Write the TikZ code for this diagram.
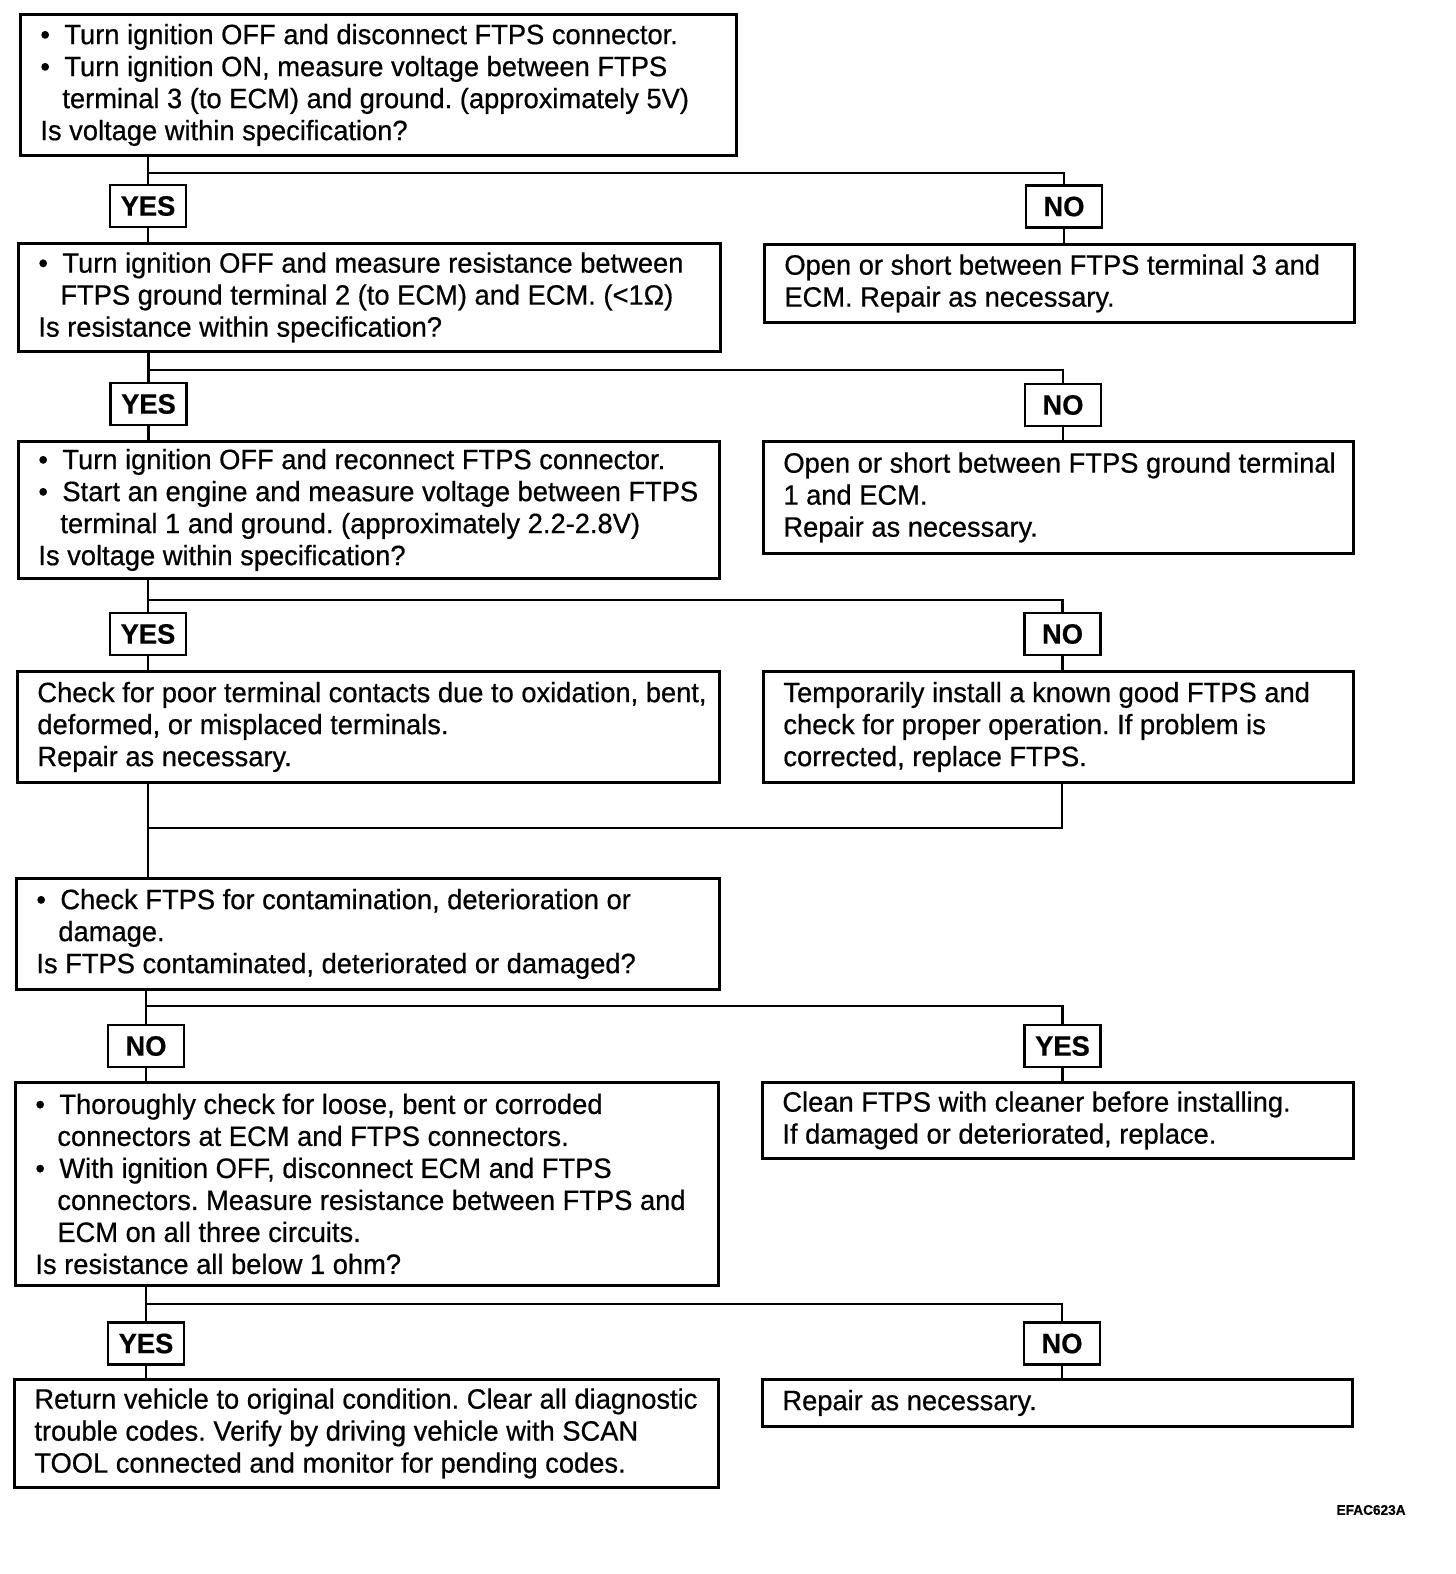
\documentclass[tikz,border=0pt]{standalone}
\usepackage{fontspec}
\setmainfont{Liberation Sans}[FakeStretch=0.975,FakeBold=0.6]
\newcommand\fs{\fontsize{14}{16}\selectfont}
\newcommand\bul{\makebox[12pt][l]{\textbullet}}
\newcommand\ind{\makebox[11pt]{}}
\frenchspacing
\begin{document}
\begin{tikzpicture}[x=0.5pt,y=-0.5pt,
  box/.style={draw, line width=1.4pt, anchor=north west, inner sep=0pt},
  txt/.style={anchor=west, align=left, inner sep=0pt, font=\fs, xshift=10.5pt},
  lab/.style={draw, line width=1.4pt, minimum width=38pt, minimum height=21pt, inner sep=0pt, font=\fs\bfseries},
  conn/.style={line width=1.4pt}]
\useasboundingbox (0,0) rectangle (1456,1574);

% boxes
\node[box, minimum width=358pt, minimum height=70.5pt] (b1) at (19,13) {};
\node[txt] (t1) at (b1.west) {\bul Turn ignition OFF and disconnect FTPS connector.\\
\bul Turn ignition ON, measure voltage between FTPS\\
\ind terminal 3 (to ECM) and ground. (approximately 5V)\\
Is voltage within specification?};

\node[box, minimum width=351pt, minimum height=54pt] (b2) at (17,242) {};
\node[txt] (t2) at (b2.west) {\bul Turn ignition OFF and measure resistance between\\
\ind FTPS ground terminal 2 (to ECM) and ECM. (<1Ω)\\
Is resistance within specification?};

\node[box, minimum width=295pt, minimum height=39pt] (b2r) at (763,243) {};
\node[txt] (t2r) at (b2r.west) {Open or short between FTPS terminal 3 and\\
ECM. Repair as necessary.};

\node[box, minimum width=350.5pt, minimum height=68.5pt] (b3) at (17,440) {};
\node[txt] (t3) at (b3.west) {\bul Turn ignition OFF and reconnect FTPS connector.\\
\bul Start an engine and measure voltage between FTPS\\
\ind terminal 1 and ground. (approximately 2.2-2.8V)\\
Is voltage within specification?};

\node[box, minimum width=295pt, minimum height=56pt] (b3r) at (762,440) {};
\node[txt] (t3r) at (b3r.west) {Open or short between FTPS ground terminal\\
1 and ECM.\\
Repair as necessary.};

\node[box, minimum width=351pt, minimum height=55.5pt] (b4) at (16,670) {};
\node[txt] (t4) at (b4.west) {Check for poor terminal contacts due to oxidation, bent,\\
deformed, or misplaced terminals.\\
Repair as necessary.};

\node[box, minimum width=295pt, minimum height=55.5pt] (b4r) at (762,670) {};
\node[txt] (t4r) at (b4r.west) {Temporarily install a known good FTPS and\\
check for proper operation. If problem is\\
corrected, replace FTPS.};

\node[box, minimum width=351.5pt, minimum height=55.5pt] (b5) at (15,877) {};
\node[txt] (t5) at (b5.west) {\bul Check FTPS for contamination, deterioration or\\
\ind damage.\\
Is FTPS contaminated, deteriorated or damaged?};

\node[box, minimum width=351.5pt, minimum height=101.5pt] (b6) at (14,1081) {};
\node[txt] (t6) at (b6.west) {\bul Thoroughly check for loose, bent or corroded\\
\ind connectors at ECM and FTPS connectors.\\
\bul With ignition OFF, disconnect ECM and FTPS\\
\ind connectors. Measure resistance between FTPS and\\
\ind ECM on all three circuits.\\
Is resistance all below 1 ohm?};

\node[box, minimum width=295.5pt, minimum height=38pt] (b6r) at (761,1081) {};
\node[txt] (t6r) at (b6r.west) {Clean FTPS with cleaner before installing.\\
If damaged or deteriorated, replace.};

\node[box, minimum width=352pt, minimum height=54pt] (b7) at (13,1378) {};
\node[txt] (t7) at (b7.west) {Return vehicle to original condition. Clear all diagnostic\\
trouble codes. Verify by driving vehicle with SCAN\\
TOOL connected and monitor for pending codes.};

\node[box, minimum width=295pt, minimum height=23.5pt] (b7r) at (761,1378) {};
\node[txt] (t7r) at (b7r.west) {Repair as necessary.};

% labels
\node[lab] (y1) at (148,206) {YES};
\node[lab] (n1) at (1064,206.5) {NO};
\node[lab] (y2) at (148.5,404) {YES};
\node[lab] (n2) at (1063,405) {NO};
\node[lab] (y3) at (148,634) {YES};
\node[lab] (n3) at (1062.5,634) {NO};
\node[lab] (n5) at (146,1046) {NO};
\node[lab] (y5) at (1062.5,1046) {YES};
\node[lab] (y6) at (146,1343.5) {YES};
\node[lab] (n6) at (1062,1343.5) {NO};

\node[anchor=east, inner sep=0pt, font=\fontsize{7}{8}\selectfont\bfseries] (code) at (1406,1510) {EFAC623A};

% connectors
\coordinate (j1) at (148,173);
\draw[conn] (b1.south -| y1) -- (y1.north);
\draw[conn] (y1.south) -- (y1 |- b2.north);
\draw[conn] (j1) -| (n1.north);
\draw[conn] (n1.south) -- (n1 |- b2r.north);

\coordinate (j2) at (148.5,370);
\draw[conn] (b2.south -| y2) -- (y2.north);
\draw[conn] (y2.south) -- (y2 |- b3.north);
\draw[conn] (j2) -| (n2.north);
\draw[conn] (n2.south) -- (n2 |- b3r.north);

\coordinate (j3) at (148,600);
\draw[conn] (b3.south -| y3) -- (y3.north);
\draw[conn] (y3.south) -- (y3 |- b4.north);
\draw[conn] (j3) -| (n3.north);
\draw[conn] (n3.south) -- (n3 |- b4r.north);

\coordinate (m1) at (148,828);
\coordinate (m2) at (1062,828);
\draw[conn] (m1 |- b4.south) -- (m1 |- b5.north);
\draw[conn] (m2 |- b4r.south) -- (m2) -- (m1);

\coordinate (j5) at (146,1006);
\draw[conn] (b5.south -| n5) -- (n5.north);
\draw[conn] (n5.south) -- (n5 |- b6.north);
\draw[conn] (j5) -| (y5.north);
\draw[conn] (y5.south) -- (y5 |- b6r.north);

\coordinate (j6) at (146,1304);
\draw[conn] (b6.south -| y6) -- (y6.north);
\draw[conn] (y6.south) -- (y6 |- b7.north);
\draw[conn] (j6) -| (n6.north);
\draw[conn] (n6.south) -- (n6 |- b7r.north);
\end{tikzpicture}
\end{document}
